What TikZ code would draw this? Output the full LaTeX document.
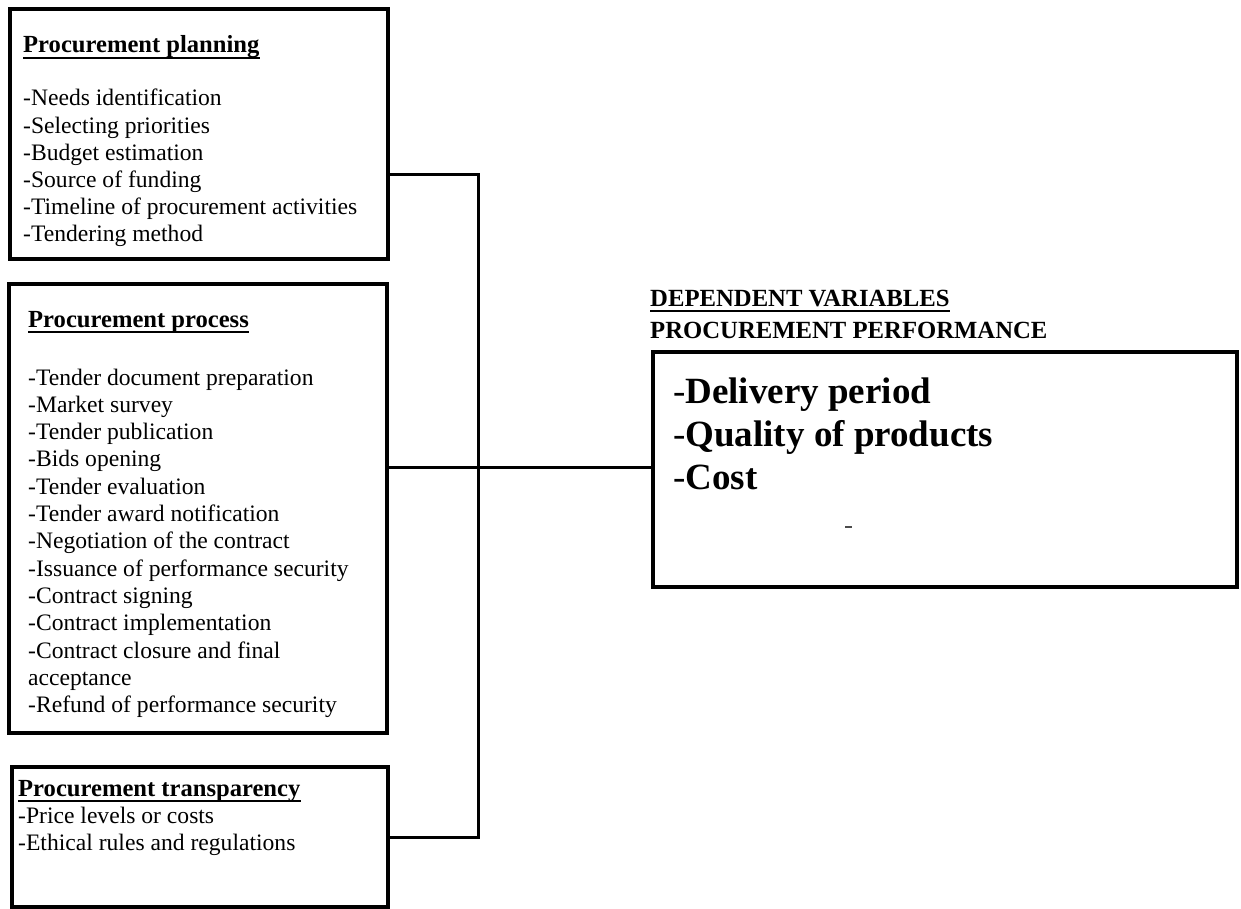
\documentclass[tikz,border=0pt]{standalone}
\usepackage{fontspec}
\setmainfont{Liberation Serif}
\begin{document}
\begin{tikzpicture}[x=1pt,y=-1pt,
  box/.style={draw=black, line width=3.1pt, anchor=north west, inner sep=0pt, outer sep=0pt},
  conn/.style={draw=black, line width=3pt},
  body/.style={anchor=base west, inner sep=0pt, font=\fontsize{23.6}{27.3}\selectfont},
  ttl/.style={anchor=base west, inner sep=0pt, font=\fontsize{24.6}{28}\selectfont\bfseries},
  big/.style={anchor=base west, inner sep=0pt, font=\fontsize{37}{43}\selectfont},
  uline/.style={line width=1.8pt}]
\useasboundingbox (0,0) rectangle (1241,909);

% boxes
\node[box, minimum width=378pt, minimum height=250pt] (b1) at (10,9) {};
\node[box, minimum width=378pt, minimum height=449pt] (b2) at (9,284) {};
\node[box, minimum width=376pt, minimum height=140pt] (b3) at (12,767) {};
\node[box, minimum width=584pt, minimum height=235pt] (dv) at (653,352) {};

% box 1 text
\node[ttl] (t1) at (23,53) {Procurement planning};
\draw[uline] ([yshift=-5pt]t1.base west) -- ([yshift=-5pt]t1.base east);
\foreach \t [count=\i] in {-Needs identification,-Selecting priorities,-Budget estimation,-Source of funding,-Timeline of procurement activities,-Tendering method}
  \node[body] (p1-\i) at (23,{106+(\i-1)*27.2}) {\t};

% box 2 text
\node[ttl] (t2) at (28,327) {Procurement process};
\draw[uline] ([yshift=-5pt]t2.base west) -- ([yshift=-5pt]t2.base east);
\foreach \t [count=\i] in {-Tender document preparation,-Market survey,-Tender publication,-Bids opening,-Tender evaluation,-Tender award notification,-Negotiation of the contract,-Issuance of performance security,-Contract signing,-Contract implementation,-Contract closure and final,acceptance,-Refund of performance security}
  \node[body] (p2-\i) at (28,{385+(\i-1)*27.3}) {\t};

% box 3 text
\node[ttl] (t3) at (18,796) {Procurement transparency};
\draw[uline] ([yshift=-5pt]t3.base west) -- ([yshift=-5pt]t3.base east);
\node[body] (p3-1) at (18,823) {-Price levels or costs};
\node[body] (p3-2) at (18,850) {-Ethical rules and regulations};

% dependent variables
\node[ttl, font=\fontsize{24.7}{28}\selectfont\bfseries] (h1) at (650,306) {DEPENDENT VARIABLES};
\draw[uline] ([yshift=-5pt]h1.base west) -- ([yshift=-5pt]h1.base east);
\node[ttl, font=\fontsize{24.7}{28}\selectfont\bfseries] (h2) at (650,338) {PROCUREMENT PERFORMANCE};
\node[big] (d1) at (673,403) {-\textbf{Delivery period}};
\node[big] (d2) at (673,446) {-\textbf{Quality of products}};
\node[big] (d3) at (673,489) {-\textbf{Cost}};
\draw[line width=1.5pt, black!70] (845,527) -- (852,527);

% connectors
\coordinate (j1) at (478,175);
\coordinate (jm) at (478,467);
\coordinate (j3) at (478,837);
\draw[conn] (b1.east |- j1) -- (j1) -- (j3) -- (b3.east |- j3);
\draw[conn] (b2.east |- jm) -- (dv.west |- jm);
\end{tikzpicture}
\end{document}
